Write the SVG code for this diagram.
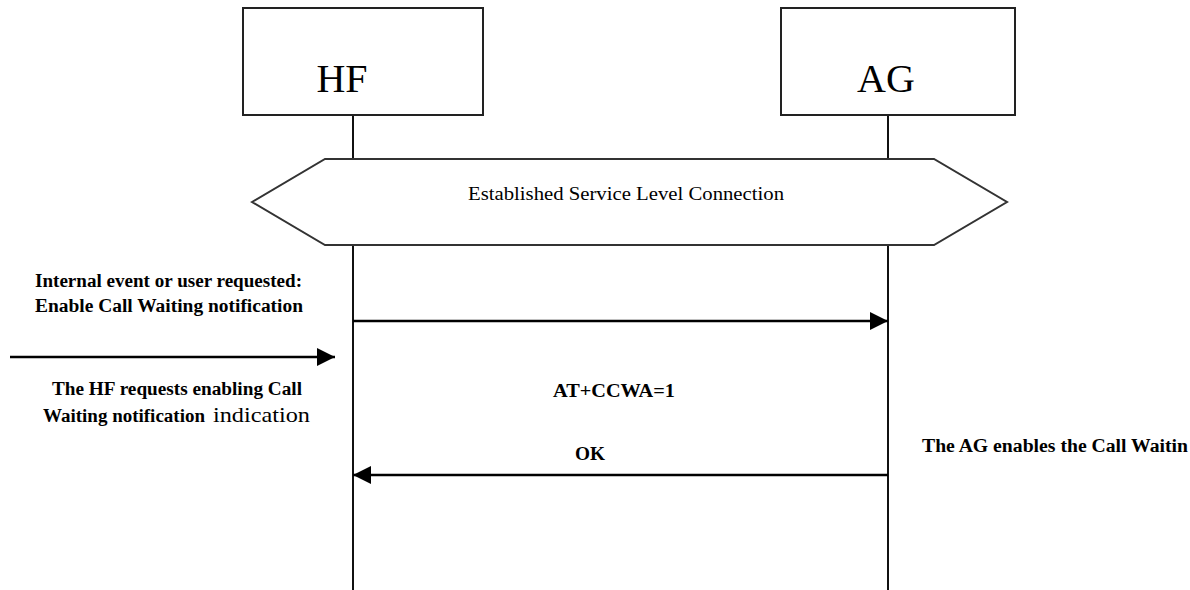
<svg xmlns="http://www.w3.org/2000/svg" width="1190" height="590" viewBox="0 0 1190 590">
<style>
.box{fill:#fff;stroke:#222;stroke-width:2}
.hex{fill:#fff;stroke:#333;stroke-width:2}
.life{stroke:#111;stroke-width:2;fill:none}
.msg{stroke:#000;stroke-width:2.6;fill:none}
.big{font-family:"Liberation Serif","Times New Roman",serif;font-size:40px;fill:#000}
.lbl{font-family:"Liberation Serif","Times New Roman",serif;font-size:18px;font-weight:bold;fill:#000}
.reg{font-family:"Liberation Serif","Times New Roman",serif;font-size:18px;fill:#000}
</style>
<defs>
<marker id="ah" markerUnits="userSpaceOnUse" markerWidth="20" markerHeight="18" refX="18" refY="9" orient="auto">
<path d="M0,0 L18,9 L0,18 Z" fill="#000"/>
</marker>
</defs>
<rect width="1190" height="590" fill="#fff"/>
<g id="connectors">
<line class="life" x1="353" y1="115" x2="353" y2="159"/>
<line class="life" x1="353" y1="245" x2="353" y2="590"/>
<line class="life" x1="888" y1="115" x2="888" y2="159"/>
<line class="life" x1="888" y1="245" x2="888" y2="590"/>
<line class="msg" x1="353" y1="321" x2="888" y2="321" marker-end="url(#ah)"/>
<line class="msg" x1="10" y1="357" x2="335" y2="357" marker-end="url(#ah)"/>
<line class="msg" x1="888" y1="475" x2="353" y2="475" marker-end="url(#ah)"/>
</g>
<g id="node-hf">
<rect class="box" x="243" y="8" width="240" height="107"/>
<text class="big" x="342" y="92" text-anchor="middle">HF</text>
</g>
<g id="node-ag">
<rect class="box" x="781" y="8" width="234" height="107"/>
<text class="big" x="886" y="92" text-anchor="middle">AG</text>
</g>
<g id="node-slc">
<polygon class="hex" points="252,202 325,159 934,159 1007,202 934,245 325,245"/>
<text class="reg" x="626" y="200" text-anchor="middle" textLength="316" lengthAdjust="spacingAndGlyphs">Established Service Level Connection</text>
</g>
<g id="labels">
<text class="lbl" x="35" y="287" textLength="267" lengthAdjust="spacingAndGlyphs">Internal event or user requested:</text>
<text class="lbl" x="35" y="312" textLength="268" lengthAdjust="spacingAndGlyphs">Enable Call Waiting notification</text>
<text class="lbl" x="52" y="395" textLength="250" lengthAdjust="spacingAndGlyphs">The HF requests enabling Call</text>
<text class="lbl" x="43" y="422" textLength="162" lengthAdjust="spacingAndGlyphs">Waiting notification</text>
<text class="reg" x="213" y="422" style="font-size:22px" textLength="97" lengthAdjust="spacingAndGlyphs">indication</text>
<text class="lbl" x="614" y="397" text-anchor="middle" textLength="122" lengthAdjust="spacingAndGlyphs">AT+CCWA=1</text>
<text class="lbl" x="590" y="460" text-anchor="middle" textLength="30" lengthAdjust="spacingAndGlyphs">OK</text>
<text class="lbl" x="922" y="452" textLength="266" lengthAdjust="spacingAndGlyphs">The AG enables the Call Waitin</text>
</g>
</svg>
